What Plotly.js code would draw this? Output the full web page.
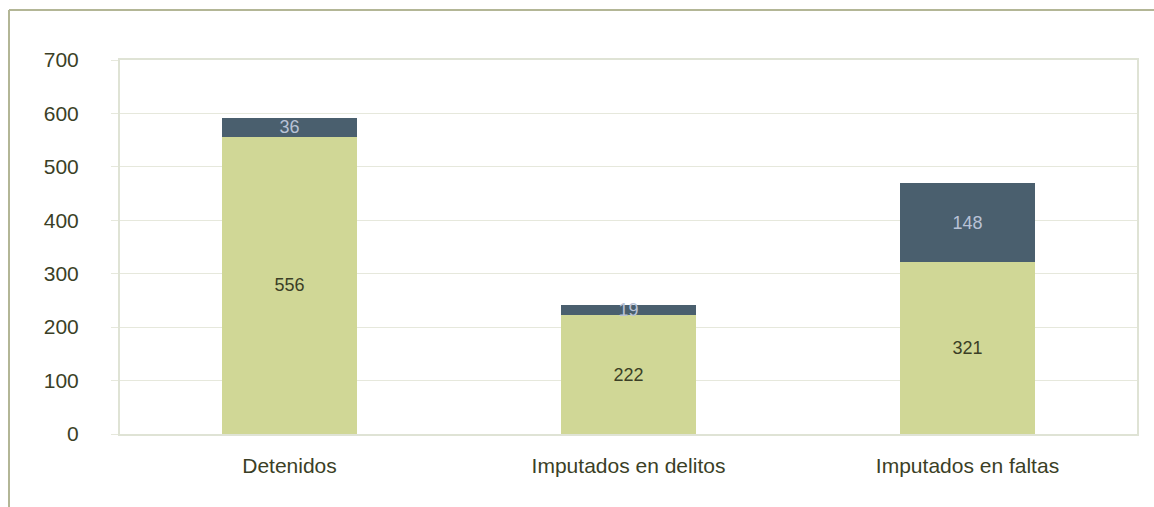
<!DOCTYPE html>
<html>
<head>
<meta charset="utf-8">
<script src="https://cdn.plot.ly/plotly-3.0.1.min.js"></script>
<style>html,body{margin:0;padding:0;background:#fff;}#chart{width:1154px;height:507px;}</style>
</head>
<body>
<div id="chart"></div>
<script>
const categories = ["Detenidos", "Imputados en delitos", "Imputados en faltas"];
const baseValues = [556, 222, 321];
const topValues = [36, 19, 148];
const yTicks = [0, 100, 200, 300, 400, 500, 600, 700];

const font = "Liberation Sans, Arial, sans-serif";
const textDark = "#3b3f26";

const traces = [
  {
    type: "bar", x: categories, y: baseValues, width: 0.4,
    marker: {color: "#d0d796"},
    text: baseValues.map(String), textposition: "inside", insidetextanchor: "middle",
    textangle: 0, textfont: {family: font, size: 18, color: textDark},
    hoverinfo: "skip"
  },
  {
    type: "bar", x: categories, y: topValues, width: 0.4,
    marker: {color: "#4a5f6e"},
    text: topValues.map(String), textposition: "inside", insidetextanchor: "middle",
    textangle: 0, textfont: {family: font, size: 18, color: "#b8c2d6"},
    hoverinfo: "skip"
  }
];

const plotL = 120, plotR = 1137, plotT = 60, plotB = 434, W = 1154, H = 507;
const px2x = p => (p - plotL) / (plotR - plotL);
const py2y = p => (plotB - p) / (plotB - plotT);

const layout = {
  width: W, height: H,
  margin: {l: plotL, r: W - plotR, t: plotT, b: H - plotB, pad: 0},
  paper_bgcolor: "#ffffff", plot_bgcolor: "#ffffff",
  barmode: "stack", showlegend: false,
  uniformtext: {minsize: 18, mode: "show"},
  font: {family: font, color: textDark},
  xaxis: {
    type: "category", showgrid: false, zeroline: false,
    showline: true, mirror: true, linecolor: "#dfe3d5", linewidth: 2,
    ticks: "", tickfont: {family: font, size: 21, color: textDark},
    ticklabelstandoff: 12, fixedrange: true
  },
  yaxis: {
    range: [0, 700], tickvals: yTicks, ticktext: yTicks.map(String),
    showgrid: true, gridcolor: "#e6e8dc", gridwidth: 1, zeroline: false,
    showline: true, mirror: true, linecolor: "#dfe3d5", linewidth: 2,
    ticks: "outside", ticklen: 7, tickcolor: "#e6e8dc", tickwidth: 1,
    tickfont: {family: font, size: 21, color: textDark},
    ticklabelstandoff: 28, fixedrange: true
  },
  shapes: [
    {type: "line", xref: "paper", yref: "paper", x0: px2x(9), x1: px2x(W), y0: py2y(10), y1: py2y(10),
     line: {color: "#b3b696", width: 2}},
    {type: "line", xref: "paper", yref: "paper", x0: px2x(9), x1: px2x(9), y0: py2y(10), y1: py2y(H),
     line: {color: "#b3b696", width: 2}}
  ]
};

Plotly.newPlot("chart", traces, layout, {displayModeBar: false, staticPlot: true});
</script>
</body>
</html>
